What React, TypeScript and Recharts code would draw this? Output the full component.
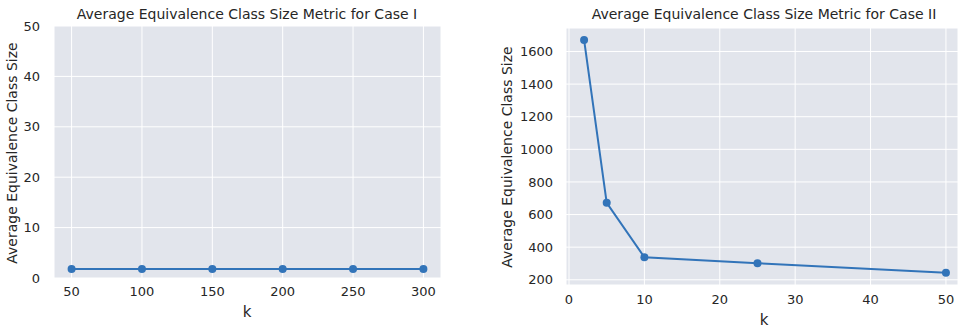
import React from 'react';
import { LineChart, Line, XAxis, YAxis, CartesianGrid } from 'recharts';

// Case I
const kCase1 = [50, 100, 150, 200, 250, 300];
const sizeCase1 = [1.8, 1.8, 1.8, 1.8, 1.8, 1.8];
const xTicks1 = [50, 100, 150, 200, 250, 300];
const yTicks1 = [0, 10, 20, 30, 40, 50];

// Case II
const kCase2 = [2, 5, 10, 25, 50];
const sizeCase2 = [1671, 672, 338, 302, 243];
const xTicks2 = [0, 10, 20, 30, 40, 50];
const yTicks2 = [200, 400, 600, 800, 1000, 1200, 1400, 1600];

const data1 = kCase1.map((k, i) => ({ k, size: sizeCase1[i] }));
const data2 = kCase2.map((k, i) => ({ k, size: sizeCase2[i] }));

const FONT = '"DejaVu Sans", sans-serif';
const TEXT = '#262626';
const BG = '#e2e5ec';
const LINE = '#3274b9';

const tickStyle = { fontSize: 13, fill: TEXT, fontFamily: FONT };

const Txt: React.FC<{ x: number; y: number; size: number; rotate?: boolean; children: React.ReactNode }> = ({
  x, y, size, rotate, children,
}) => (
  <div
    style={{
      position: 'absolute',
      left: x,
      top: y,
      transform: `translate(-50%, -50%)${rotate ? ' rotate(-90deg)' : ''}`,
      whiteSpace: 'nowrap',
      fontFamily: FONT,
      fontSize: size,
      color: TEXT,
      lineHeight: 1,
    }}
  >
    {children}
  </div>
);

const App: React.FC = () => {
  return (
    <div style={{ position: 'fixed', left: 0, top: 0, width: 958, height: 331, background: '#fff', overflow: 'hidden', fontFamily: FONT }}>
      <div style={{ position: 'absolute', left: 0, top: 0 }}>
        <LineChart width={480} height={331} data={data1} margin={{ top: 26, right: 39, bottom: 0, left: 0 }}>
          <CartesianGrid fill={BG} stroke="#ffffff" strokeWidth={1} />
          <XAxis
            dataKey="k"
            type="number"
            domain={[37.5, 312.5]}
            ticks={xTicks1}
            axisLine={false}
            tickLine={false}
            tickSize={0}
            tickMargin={9}
            height={53}
            tick={tickStyle}
            allowDataOverflow
          />
          <YAxis
            type="number"
            domain={[0, 50]}
            ticks={yTicks1}
            axisLine={false}
            tickLine={false}
            tickSize={0}
            tickMargin={14}
            width={54}
            tick={tickStyle}
            allowDataOverflow
          />
          <Line
            dataKey="size"
            stroke={LINE}
            strokeWidth={2}
            dot={{ r: 4, fill: LINE, stroke: LINE, strokeWidth: 0 }}
            isAnimationActive={false}
          />
        </LineChart>
      </div>
      <div style={{ position: 'absolute', left: 480, top: 0 }}>
        <LineChart width={478} height={331} data={data2} margin={{ top: 28, right: 0, bottom: 0, left: 0 }}>
          <CartesianGrid fill={BG} stroke="#ffffff" strokeWidth={1} />
          <XAxis
            dataKey="k"
            type="number"
            domain={[-0.4, 51.6]}
            ticks={xTicks2}
            axisLine={false}
            tickLine={false}
            tickSize={0}
            tickMargin={10}
            height={46}
            tick={tickStyle}
            allowDataOverflow
          />
          <YAxis
            type="number"
            domain={[168, 1744]}
            ticks={yTicks2}
            axisLine={false}
            tickLine={false}
            tickSize={0}
            tickMargin={13}
            width={86}
            tick={tickStyle}
            allowDataOverflow
          />
          <Line
            dataKey="size"
            stroke={LINE}
            strokeWidth={2}
            dot={{ r: 4, fill: LINE, stroke: LINE, strokeWidth: 0 }}
            isAnimationActive={false}
          />
        </LineChart>
      </div>

      <Txt x={247} y={14} size={14}>Average Equivalence Class Size Metric for Case I</Txt>
      <Txt x={764} y={14} size={14}>Average Equivalence Class Size Metric for Case II</Txt>
      <Txt x={247} y={312} size={15}>k</Txt>
      <Txt x={764} y={320} size={15}>k</Txt>
      <Txt x={12} y={153} size={14} rotate>Average Equivalence Class Size</Txt>
      <Txt x={507} y={157} size={14} rotate>Average Equivalence Class Size</Txt>
    </div>
  );
};

export default App;
